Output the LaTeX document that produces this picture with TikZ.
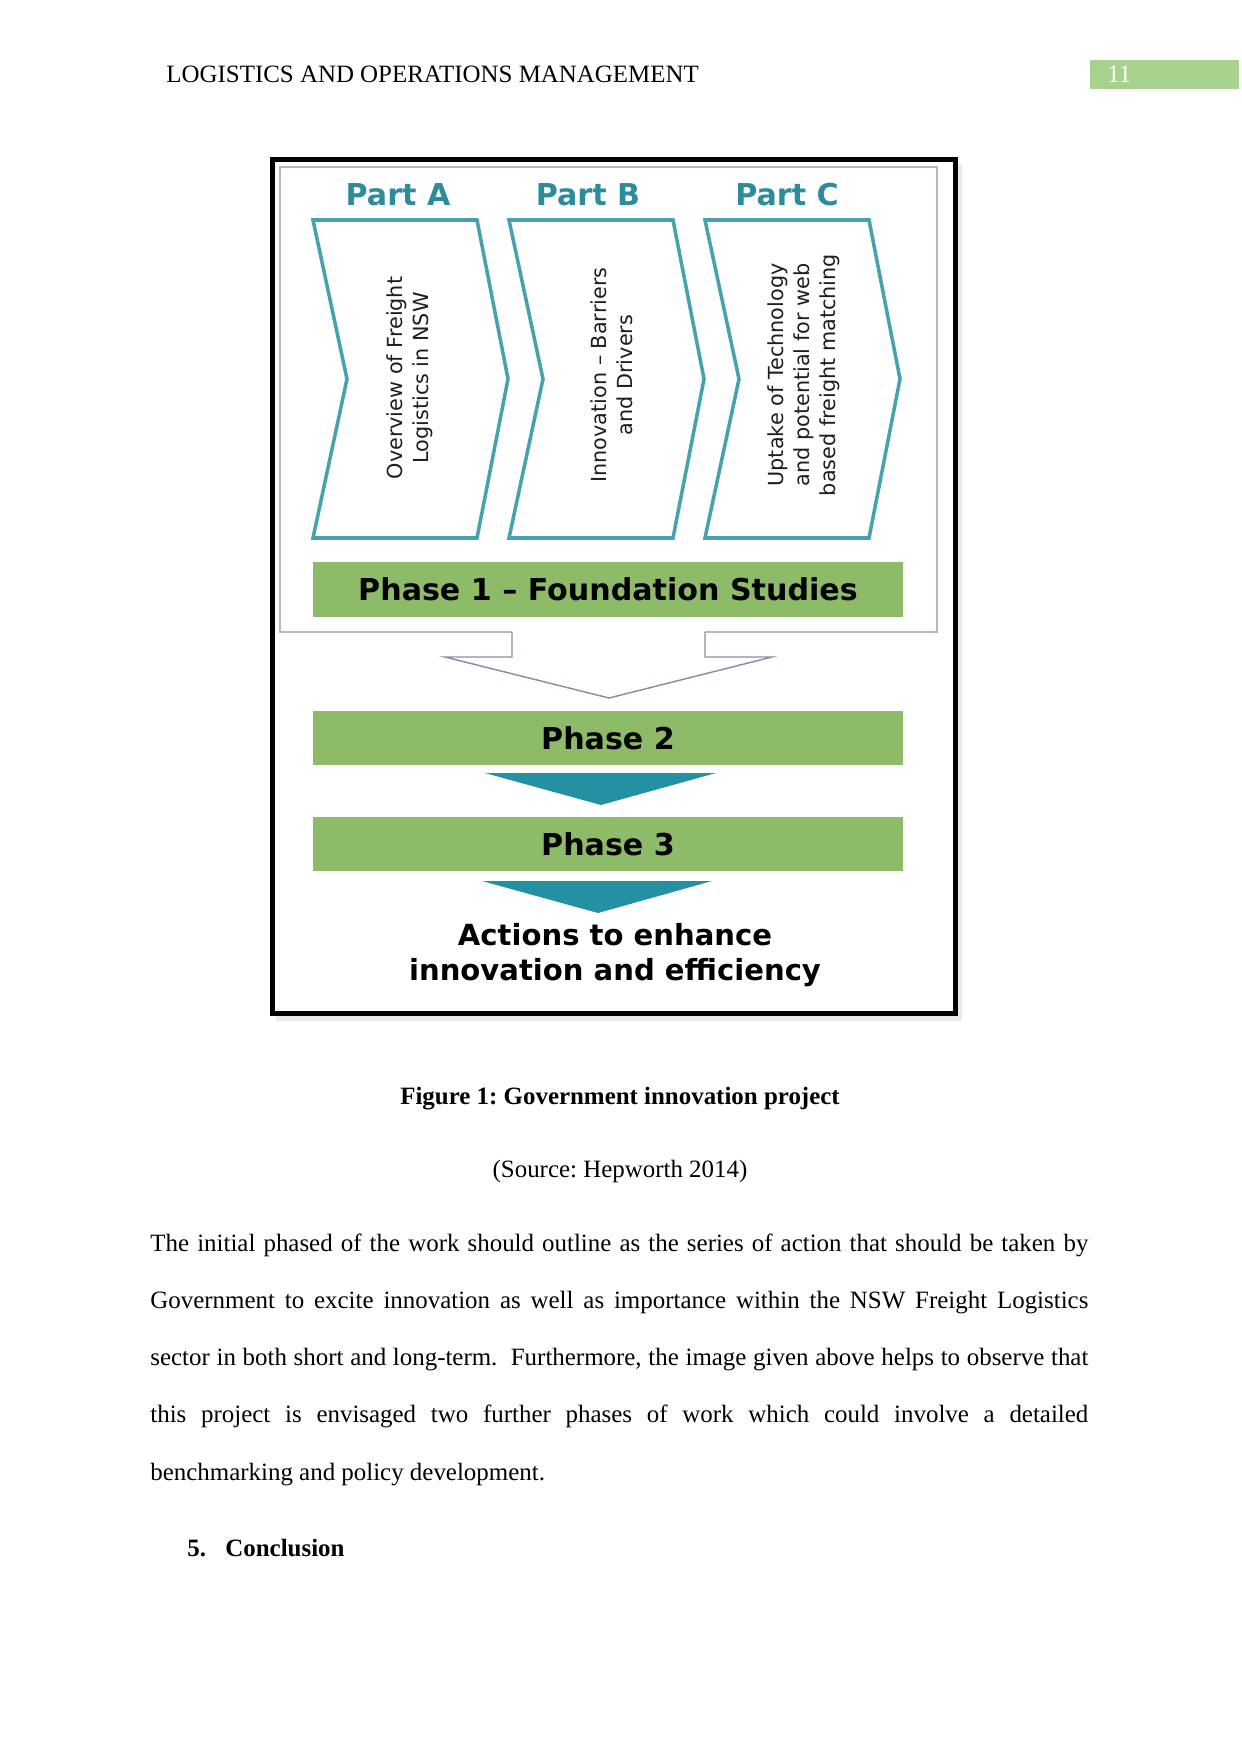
\documentclass[tikz,border=0pt]{standalone}
\usepackage{fontspec}
\setmainfont{Liberation Serif}
\newfontfamily\vsans{DejaVu Sans}
\usetikzlibrary{calc}
\definecolor{partteal}{HTML}{2B8C9C}
\definecolor{chevteal}{HTML}{45A2AE}
\definecolor{triteal}{HTML}{2491A2}
\definecolor{phasegreen}{HTML}{8DBB68}
\definecolor{pagegreen}{HTML}{A9D18E}
\definecolor{framegray}{HTML}{B6B6C8}
\definecolor{arrowgray}{HTML}{8C8CAA}
\definecolor{darktext}{HTML}{1E1E1E}
\frenchspacing

\begin{document}
\begin{tikzpicture}[x=0.16922mm,y=-0.16922mm,font=\fontsize{12}{14.4}\selectfont]
  \path[use as bounding box] (0,0) rectangle (1241,1754);
  \tikzset{
    partlbl/.style={font=\vsans\bfseries\fontsize{14.5}{17}\selectfont,text=partteal,inner sep=0pt},
    chev/.style={draw=chevteal,line width=1.7pt,line join=miter},
    chevtxt/.style={font=\vsans\fontsize{10}{12.5}\selectfont,text=darktext,align=center,rotate=90,inner sep=0pt},
    phasebar/.style={fill=phasegreen,minimum width=99.84mm,minimum height=9.2mm,inner sep=0pt,font=\vsans\bfseries\fontsize{14.5}{17}\selectfont},
    downtri/.style={fill=triteal},
    pagetxt/.style={inner sep=0pt,font=\fontsize{12}{14.4}\selectfont},
    bodytxt/.style={pagetxt,text width=451.6pt,align=justify,font=\fontsize{12}{27.6}\selectfont}
  }
  % page header
  \node[pagetxt,anchor=base west] (head) at (166,83) {LOGISTICS AND OPERATIONS MANAGEMENT};
  \node[fill=pagegreen,minimum width=25.2mm,minimum height=4.9mm,inner sep=0pt] (pgbox) at (1164.5,74.5) {};
  \node[pagetxt,anchor=base west,text=white] (pgnum) at (1107,83) {11};

  % figure frame
  \fill[black!8] (276,164) rectangle (962,1021);
  \fill[white] (272,159) rectangle (956,1014);
  \draw[line width=2.4pt] (272.5,159.5) rectangle (955.5,1013.5);

  % phase 1 box with open arrow
  \draw[framegray,line width=0.7pt] (512,632) -- (280,632) -- (280,167) -- (937,167) -- (937,632) -- (705,632);
  \draw[arrowgray,line width=0.7pt] (705,632) -- (705,657) -- (772,657) -- (609,698) -- (445,657) -- (512,657) -- (512,632);

  \foreach \x in {313,509,705}{
    \draw[chev] (\x,220) -- ++(164,0) -- ++(31,159) -- ++(-31,159) -- ++(-164,0) -- ++(34,-159) -- cycle;
  }
  \node[partlbl] (partA) at (398,195) {Part A};
  \node[partlbl] (partB) at (588,195) {Part B};
  \node[partlbl] (partC) at (787,195) {Part C};
  \node[chevtxt] (txtA) at (410,378) {Overview of Freight\\Logistics in NSW};
  \node[chevtxt] (txtB) at (612,375) {Innovation – Barriers\\and Drivers};
  \node[chevtxt] (txtC) at (804,375) {Uptake of Technology\\and potential for web\\based freight matching};

  \node[phasebar] (ph1) at (608,589.5) {Phase 1 – Foundation Studies};
  \node[phasebar] (ph2) at (608,738) {Phase 2};
  \node[phasebar] (ph3) at (608,844) {Phase 3};
  \fill[downtri] (485,773) -- (716,773) -- (601,805) -- cycle;
  \fill[downtri] (482,881) -- (712,881) -- (598,913) -- cycle;
  \node[font=\vsans\bfseries\fontsize{14}{16.8}\selectfont,align=center,inner sep=0pt] (actions) at (615,955) {Actions to enhance\\innovation and efficiency};

  % caption and text
  \node[pagetxt,anchor=base,font=\bfseries\fontsize{12}{14.4}\selectfont] (cap) at (620,1104) {Figure 1: Government innovation project};
  \node[pagetxt,anchor=base] (src) at (620,1177) {(Source: Hepworth 2014)};
  \node[bodytxt,anchor=base west] (para) at (150,1251) {The initial phased of the work should outline as the series of action that should be taken by\linebreak
    Government to excite innovation as well as importance within the NSW Freight Logistics\linebreak
    sector in both short and long-term.\ \ Furthermore, the image given above helps to observe that\linebreak
    this project is envisaged two further phases of work which could involve a detailed\linebreak
    benchmarking and policy development.};
  \node[pagetxt,anchor=base west,font=\bfseries\fontsize{12}{14.4}\selectfont] (concnum) at (187,1556) {5.};
  \node[pagetxt,anchor=base west,font=\bfseries\fontsize{12}{14.4}\selectfont] (conc) at (225,1556) {Conclusion};
\end{tikzpicture}
\end{document}
